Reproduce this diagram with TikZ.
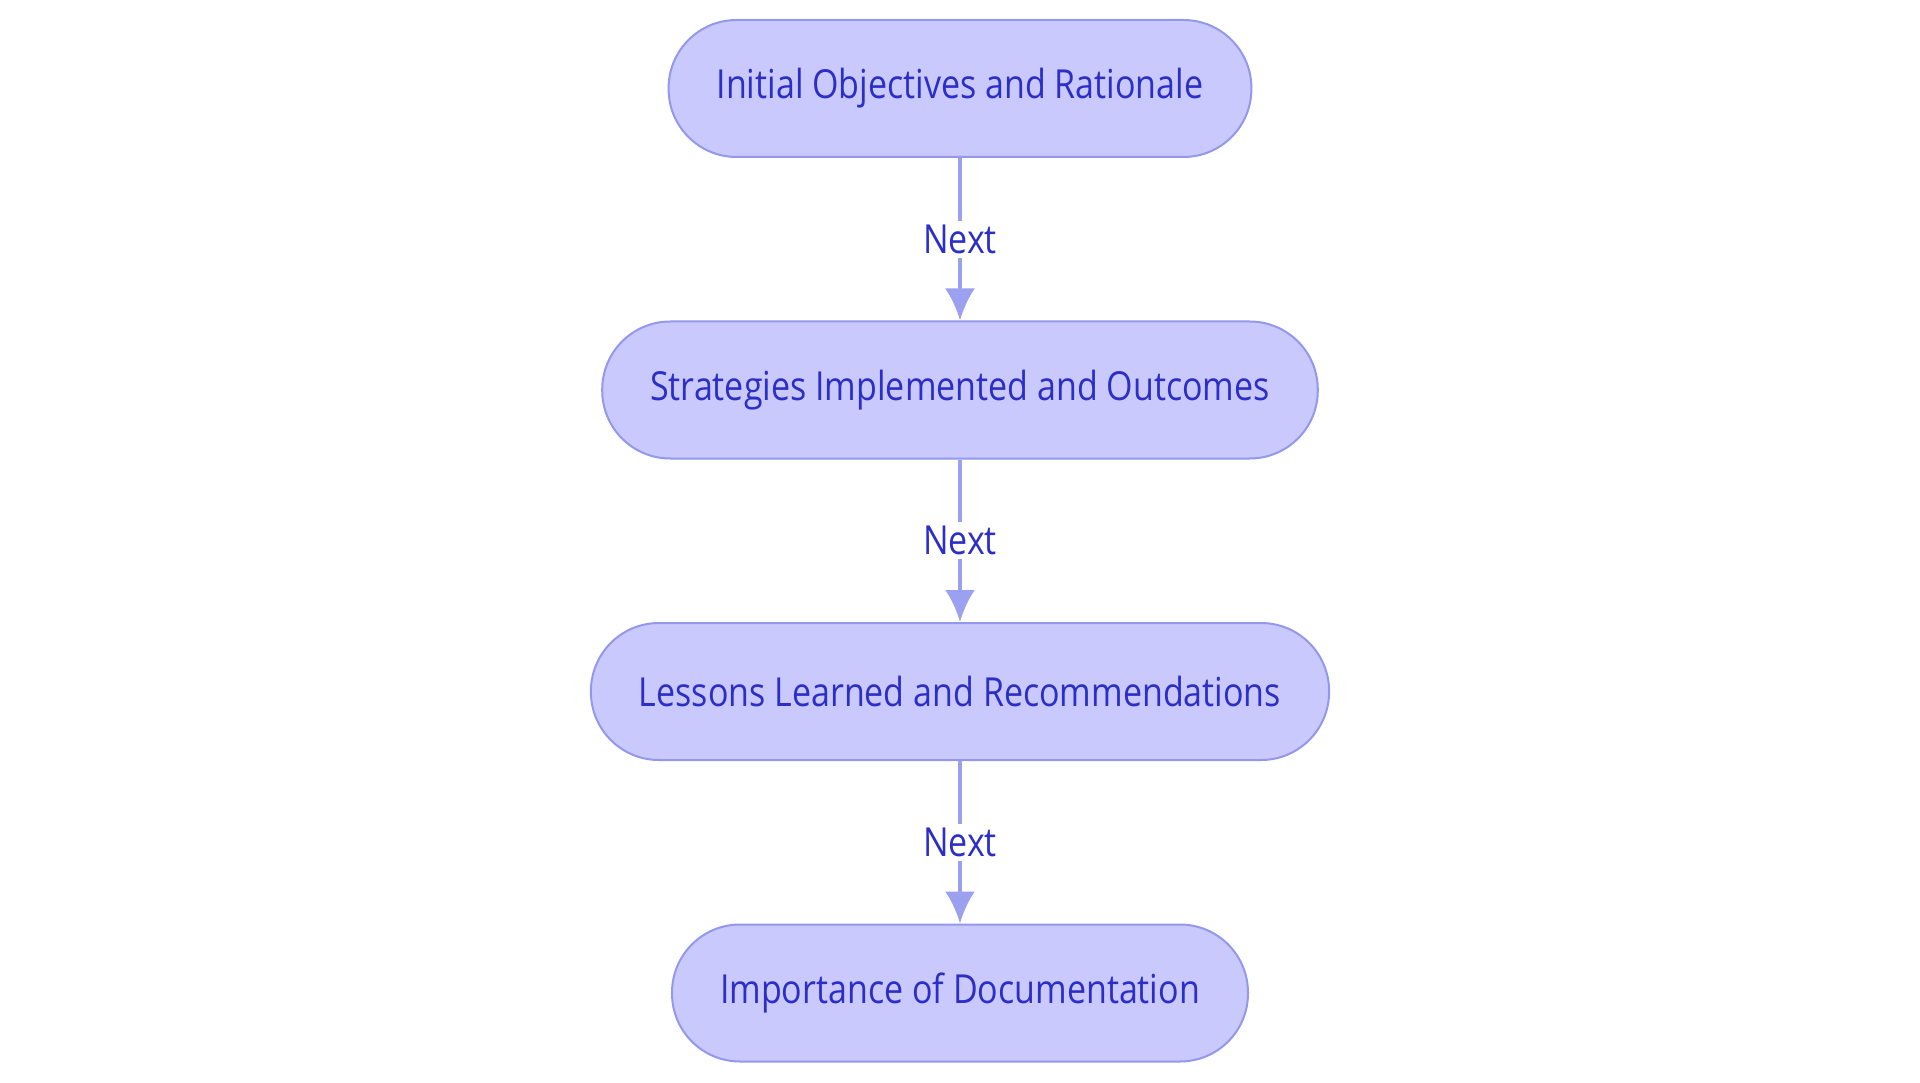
\documentclass[tikz,border=0pt]{standalone}
\usepackage{fontspec}
\setmainfont{Open Sans}[FakeStretch=0.85]
\usetikzlibrary{arrows.meta,positioning}

\begin{document}
\begin{tikzpicture}[>=Latex,x=1pt,y=1pt]
\definecolor{boxfill}{RGB}{201,201,253}
\definecolor{boxline}{RGB}{148,152,236}
\definecolor{textcolor}{RGB}{44,46,200}
\definecolor{edgecolor}{RGB}{156,160,240}

\tikzset{
  stadium/.style={draw=boxline,fill=boxfill,line width=2pt,
    rounded corners=68pt,minimum height=137pt,inner xsep=48pt,
    text=textcolor,font=\fontsize{40}{48}\selectfont},
  flow/.style={edgecolor,line width=4pt,
    -{Latex[length=32pt,width=30pt]}},
  nextlabel/.style={fill=white,text=textcolor,inner sep=4pt,
    font=\fontsize{40}{48}\selectfont}
}

% Page size of the reference, in pixels as points.
\useasboundingbox (0,0) rectangle (1920,-1083);

% Four steps, one under the other.
\node[stadium] (objectives) at (960,-88.5) {Initial Objectives and Rationale};
\node[stadium,below=162.5pt of objectives] (strategies)
  {Strategies Implemented and Outcomes};
\node[stadium,below=162.5pt of strategies] (lessons)
  {Lessons Learned and Recommendations};
\node[stadium,below=162.5pt of lessons] (documentation)
  {Importance of Documentation};

% Connectors with their labels.
\draw[flow] (objectives) -- node[nextlabel] (next1) {Next} (strategies);
\draw[flow] (strategies) -- node[nextlabel] (next2) {Next} (lessons);
\draw[flow] (lessons) -- node[nextlabel] (next3) {Next} (documentation);
\end{tikzpicture}
\end{document}
